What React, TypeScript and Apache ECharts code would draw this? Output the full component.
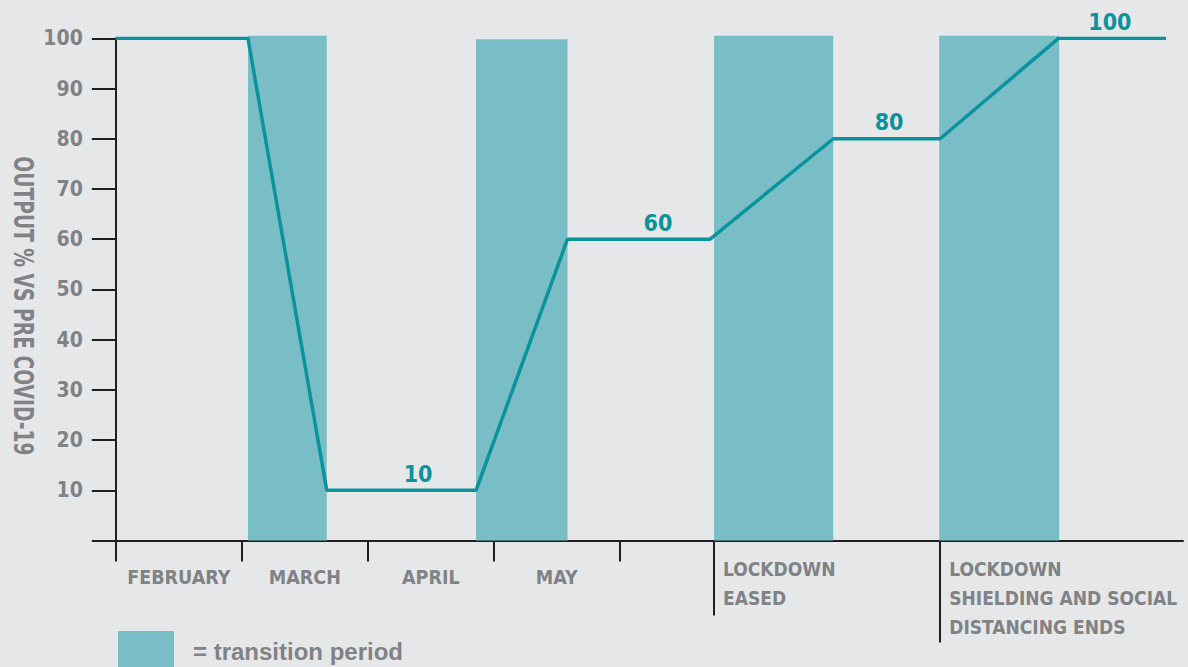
import React, { useEffect, useRef } from 'react';
import * as echarts from 'echarts';

// ---- data (x in "months from start of February") ----
const lineX = [0, 1.049, 1.674, 2.859, 3.585, 4.717, 5.694, 6.543, 7.482, 8.335];
const lineY = [100, 100, 10, 10, 60, 60, 80, 80, 100, 100];
const barStart = [1.049, 2.859, 4.748, 6.535];
const barEnd = [1.674, 3.585, 5.694, 7.487];
const barValue = [100.5, 99.8, 100.5, 100.5];
const valueLabelX = [2.399, 4.303, 6.137, 7.89];
const valueLabelY = [10, 60, 80, 100];
const monthLabels = ['FEBRUARY', 'MARCH', 'APRIL', 'MAY'];
const monthCenters = [0.5, 1.5, 2.5, 3.5];
const monthTicks = [0, 1, 2, 3, 4];
const milestoneX = [4.748, 6.543];
const milestoneLabels = ['LOCKDOWN\nEASED', 'LOCKDOWN\nSHIELDING AND SOCIAL\nDISTANCING ENDS'];
const yAxisTitle = 'OUTPUT % VS PRE COVID-19';
const legendLabel = '= transition period';

const NARROW = "'Liberation Sans Narrow', 'Arial Narrow', 'DejaVu Sans Condensed', sans-serif";
const GRAY = '#808285';
const TEAL = '#0a939c';
const BAR = '#79bec6';
const AXIS = '#231f20';
const X_MAX = 8.47;

export default function App() {
  const ref = useRef<HTMLDivElement>(null);
  useEffect(() => {
    if (!ref.current) return;
    const chart = echarts.init(ref.current, null, { renderer: 'svg' });
    const baseX = {
      type: 'value',
      min: 0,
      max: X_MAX,
      gridIndex: 0,
      position: 'bottom',
      offset: 0,
      splitLine: { show: false },
    };
    const option: any = {
      animation: false,
      backgroundColor: '#e6e7e9',
      grid: {
        left: 115.8,
        right: 5,
        top: 38.3,
        bottom: 126.5,
        containLabel: false,
        outerBoundsMode: 'none',
      },
      legend: {
        data: [{ name: legendLabel, icon: 'rect' }],
        left: 118,
        top: 631,
        padding: 0,
        itemWidth: 56,
        itemHeight: 40,
        selectedMode: false,
        textStyle: {
          fontSize: 24,
          fontWeight: 'bold',
          color: GRAY,
          fontFamily: "'Liberation Sans', Arial, sans-serif",
          padding: [0, 0, 0, 14],
        },
      },
      xAxis: [
        {
          ...baseX,
          axisLine: { show: true, lineStyle: { color: AXIS, width: 2 } },
          axisTick: { show: true, customValues: monthTicks, length: 21, lineStyle: { color: AXIS, width: 2 } },
          axisLabel: {
            customValues: monthCenters,
            formatter: (v: number) => {
              let best = 0;
              monthCenters.forEach((c, i) => { if (Math.abs(c - v) < Math.abs(monthCenters[best] - v)) best = i; });
              return monthLabels[best];
            },
            margin: 37,
            verticalAlign: 'middle',
            fontSize: 19.5,
            fontWeight: 'bold',
            color: GRAY,
            fontFamily: NARROW,
          },
        },
        ...milestoneX.map((mx, i) => ({
          ...baseX,
          axisLine: { show: false },
          axisTick: { show: true, customValues: [mx], length: i === 0 ? 75 : 102, lineStyle: { color: AXIS, width: 2 } },
          axisLabel: {
            customValues: [mx],
            formatter: () => milestoneLabels[i],
            align: 'left',
            verticalAlign: 'top',
            lineHeight: 29,
            margin: 14,
            padding: [0, 0, 0, 9],
            fontSize: 19,
            fontWeight: 'bold',
            color: GRAY,
            fontFamily: NARROW,
          },
        })),
      ],
      yAxis: {
        type: 'value',
        min: 0,
        max: 100,
        interval: 10,
        splitLine: { show: false },
        axisLine: { show: true, lineStyle: { color: AXIS, width: 2 } },
        axisTick: { show: true, length: 24, lineStyle: { color: AXIS, width: 2 } },
        axisLabel: {
          margin: 33,
          formatter: (v: number) => (v === 0 ? '' : String(v)),
          fontSize: 21,
          fontWeight: 'bold',
          color: GRAY,
          fontFamily: NARROW,
        },
      },
      graphic: [
        {
          type: 'text',
          x: 22.5,
          y: 306,
          rotation: -Math.PI / 2,
          scaleX: 0.8,
          style: {
            text: yAxisTitle,
            fill: GRAY,
            fontSize: 26,
            fontWeight: 'bold',
            fontFamily: NARROW,
            align: 'center',
            verticalAlign: 'middle',
          },
        },
      ],
      series: [
        {
          name: legendLabel,
          type: 'custom',
          xAxisIndex: 0,
          yAxisIndex: 0,
          z: 1,
          itemStyle: { color: BAR },
          encode: { x: [0, 1], y: 2 },
          data: barStart.map((s, i) => [s, barEnd[i], barValue[i]]),
          renderItem: (params: any, api: any) => {
            const p0 = api.coord([api.value(0), api.value(2)]);
            const p1 = api.coord([api.value(1), 0]);
            return {
              type: 'rect',
              shape: { x: p0[0], y: p0[1], width: p1[0] - p0[0], height: p1[1] - p0[1] },
              style: { fill: BAR },
            };
          },
        },
        {
          name: 'output',
          type: 'line',
          xAxisIndex: 0,
          yAxisIndex: 0,
          z: 3,
          showSymbol: false,
          symbol: 'none',
          lineStyle: { color: TEAL, width: 3.5 },
          itemStyle: { color: TEAL },
          data: lineX.map((x, i) => [x, lineY[i]]),
          markPoint: {
            symbol: 'circle',
            symbolSize: 0,
            label: {
              show: true,
              position: 'top',
              distance: 5,
              color: TEAL,
              fontSize: 23,
              fontWeight: 'bold',
              fontFamily: NARROW,
              formatter: (p: any) => String(p.value),
            },
            data: valueLabelX.map((x, i) => ({ coord: [x, valueLabelY[i]], value: valueLabelY[i] })),
          },
        },
      ],
    };
    chart.setOption(option);
    return () => chart.dispose();
  }, []);
  return <div ref={ref} style={{ position: 'absolute', left: 0, top: 0, width: 1188, height: 667 }} />;
}
